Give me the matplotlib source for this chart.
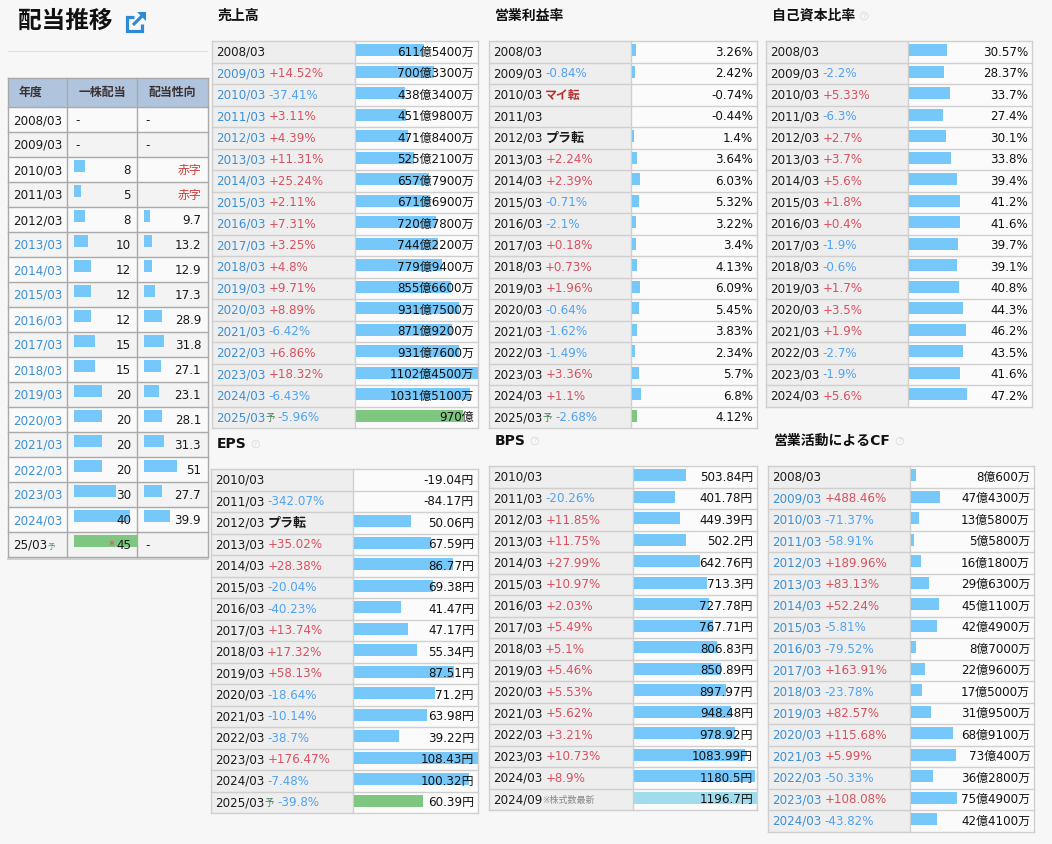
import numpy as np
import matplotlib
matplotlib.use("Agg")
import matplotlib.pyplot as plt
from matplotlib.patches import Rectangle, Polygon

plt.rcParams['font.family'] = ['DejaVu Sans', 'Noto Sans CJK JP']

W, H = 1052, 844
BG = '#f7f7f7'
BAR = '#76c8fb'
BAR_FC = '#7fc781'
BAR_NEW = '#a0dcec'
LINK = '#3b8fd5'
UP = '#d9505e'
DOWN = '#4ea2f2'
FS = 8.6

# ---- 配当推移 ----
div_years = ["2008/03", "2009/03", "2010/03", "2011/03", "2012/03", "2013/03", "2014/03",
             "2015/03", "2016/03", "2017/03", "2018/03", "2019/03", "2020/03", "2021/03",
             "2022/03", "2023/03", "2024/03", "25/03"]
div_amount = [None, None, 8, 5, 8, 10, 12, 12, 12, 15, 15, 20, 20, 20, 20, 30, 40, 45]
div_payout = [None, None, "赤字", "赤字", 9.7, 13.2, 12.9, 17.3, 28.9, 31.8, 27.1, 23.1,
              28.1, 31.3, 51, 27.7, 39.9, None]

# ---- 売上高 (億円) ----
sales_years = [f"{y}/03" for y in range(2008, 2026)]
sales_chg = ["", "+14.52%", "-37.41%", "+3.11%", "+4.39%", "+11.31%", "+25.24%", "+2.11%",
             "+7.31%", "+3.25%", "+4.8%", "+9.71%", "+8.89%", "-6.42%", "+6.86%", "+18.32%",
             "-6.43%", "-5.96%"]
sales_val = [611.54, 700.33, 438.34, 451.98, 471.84, 525.21, 657.79, 671.69, 720.78, 744.22,
             779.94, 855.66, 931.75, 871.92, 931.76, 1102.45, 1031.51, 970.0]

# ---- 営業利益率 (%) ----
margin_years = [f"{y}/03" for y in range(2008, 2026)]
margin_chg = ["", "-0.84%", "マイ転", "", "プラ転", "+2.24%", "+2.39%", "-0.71%", "-2.1%",
              "+0.18%", "+0.73%", "+1.96%", "-0.64%", "-1.62%", "-1.49%", "+3.36%", "+1.1%",
              "-2.68%"]
margin_val = [3.26, 2.42, -0.74, -0.44, 1.4, 3.64, 6.03, 5.32, 3.22, 3.4, 4.13, 6.09, 5.45,
              3.83, 2.34, 5.7, 6.8, 4.12]

# ---- 自己資本比率 (%) ----
equity_years = [f"{y}/03" for y in range(2008, 2025)]
equity_chg = ["", "-2.2%", "+5.33%", "-6.3%", "+2.7%", "+3.7%", "+5.6%", "+1.8%", "+0.4%",
              "-1.9%", "-0.6%", "+1.7%", "+3.5%", "+1.9%", "-2.7%", "-1.9%", "+5.6%"]
equity_val = [30.57, 28.37, 33.7, 27.4, 30.1, 33.8, 39.4, 41.2, 41.6, 39.7, 39.1, 40.8, 44.3,
              46.2, 43.5, 41.6, 47.2]

# ---- EPS (円) ----
eps_years = [f"{y}/03" for y in range(2010, 2026)]
eps_chg = ["", "-342.07%", "プラ転", "+35.02%", "+28.38%", "-20.04%", "-40.23%", "+13.74%",
           "+17.32%", "+58.13%", "-18.64%", "-10.14%", "-38.7%", "+176.47%", "-7.48%", "-39.8%"]
eps_val = [-19.04, -84.17, 50.06, 67.59, 86.77, 69.38, 41.47, 47.17, 55.34, 87.51, 71.2,
           63.98, 39.22, 108.43, 100.32, 60.39]

# ---- BPS (円) ----
bps_years = [f"{y}/03" for y in range(2010, 2025)] + ["2024/09"]
bps_chg = ["", "-20.26%", "+11.85%", "+11.75%", "+27.99%", "+10.97%", "+2.03%", "+5.49%",
           "+5.1%", "+5.46%", "+5.53%", "+5.62%", "+3.21%", "+10.73%", "+8.9%", ""]
bps_val = [503.84, 401.78, 449.39, 502.2, 642.76, 713.3, 727.78, 767.71, 806.83, 850.89,
           897.97, 948.48, 978.92, 1083.99, 1180.5, 1196.7]

# ---- 営業活動によるCF (億円) ----
cf_years = [f"{y}/03" for y in range(2008, 2025)]
cf_chg = ["", "+488.46%", "-71.37%", "-58.91%", "+189.96%", "+83.13%", "+52.24%", "-5.81%",
          "-79.52%", "+163.91%", "-23.78%", "+82.57%", "+115.68%", "+5.99%", "-50.33%",
          "+108.08%", "-43.82%"]
cf_val = [8.06, 47.43, 13.58, 5.58, 16.18, 29.63, 45.11, 42.49, 8.70, 22.96, 17.50, 31.95,
          68.91, 73.04, 36.28, 75.49, 42.41]


def oku(v):
    man = int(round(v * 10000))
    o, rest = divmod(man, 10000)
    return f"{o}億{rest}万" if rest else f"{o}億"


def pct(v):
    return f"{v:g}%"


def yen(v):
    return f"{v:g}円"


fig = plt.figure(figsize=(W / 100, H / 100), dpi=100, facecolor=BG)


def pixel_axes(z):
    a = fig.add_axes([0, 0, 1, 1])
    a.set_xlim(0, W)
    a.set_ylim(H, 0)
    a.axis('off')
    a.set_zorder(z)
    return a


# base: cell backgrounds and grid, fg: all texts on top of the bars
base = pixel_axes(0)
fg = pixel_axes(3)


def chain(x, y, parts):
    # first piece is placed, the others follow the previous text's right edge
    txt, kw, _ = parts[0]
    prev = fg.text(x, y, txt, ha='left', va='baseline', **kw)
    for txt, kw, gap in parts[1:]:
        prev = fg.annotate(txt, xy=(1, y), xycoords=(prev, 'data'), xytext=(gap, 0),
                           textcoords='offset pixels', ha='left', va='baseline', **kw)
    return prev


def help_icon(t, y):
    fg.annotate('?', xy=(1, y), xycoords=(t, 'data'), xytext=(9, 0),
                textcoords='offset pixels', ha='center', va='center', fontsize=4.5,
                color='#d6d6d6',
                bbox=dict(boxstyle='circle,pad=0.2', fc='none', ec='#e0e0e0', lw=0.7))


def bar_axes(x0, y0, w, h, n, vmax):
    bx = fig.add_axes([x0 / W, 1 - (y0 + h) / H, w / W, h / H])
    bx.set_xlim(0, vmax)
    bx.set_ylim(n, 0)
    bx.axis('off')
    bx.set_zorder(1)
    return bx


def panel(title, x0, y0, lw, vw, years, chg, vals, fmt, vmax, link=False, last=None,
          helpq=False):
    n = len(years)
    rh = 21.5
    ty = y0 - 25
    t = fg.text(x0 + 6, ty, title, fontsize=10, fontweight='bold', va='center',
                color='#111111')
    if helpq:
        help_icon(t, ty)
    for i in range(n):
        top = y0 + i * rh
        base.add_patch(Rectangle((x0, top), lw, rh, fc='#eeeeee', ec='none'))
        base.add_patch(Rectangle((x0 + lw, top), vw, rh, fc='#fbfbfb', ec='none'))
    for i in range(n + 1):
        base.plot([x0, x0 + lw + vw], [y0 + i * rh] * 2, color='#cfcfcf', lw=1.0)
    for xx in (x0, x0 + lw, x0 + lw + vw):
        base.plot([xx, xx], [y0, y0 + n * rh], color='#cfcfcf', lw=1.0)

    for i in range(n):
        top = y0 + i * rh
        col = LINK if (link and i > 0) else '#1a1a1a'
        parts = [(years[i], dict(color=col, fontsize=FS), 0)]
        if i == n - 1 and last == 'fc':
            parts.append(('予', dict(color='#3f7f52', fontsize=6.8), 0))
        if i == n - 1 and last == 'new':
            parts.append(('※株式数最新', dict(color='#8a8a8a', fontsize=6.5), 0))
        c = chg[i]
        if c == 'マイ転':
            parts.append((c, dict(color='#b3302f', fontweight='bold', fontsize=FS), 3))
        elif c == 'プラ転':
            parts.append((c, dict(color='#1a1a1a', fontweight='bold', fontsize=FS + 0.8), 3))
        elif c:
            parts.append((c, dict(color=UP if c.startswith('+') else DOWN, fontsize=FS), 3))
        chain(x0 + 4, top + rh / 2 + 4, parts)

    bx = bar_axes(x0 + lw + 1, y0, vw - 1, n * rh, n, vmax)
    colors = [BAR] * n
    if last == 'fc':
        colors[-1] = BAR_FC
    if last == 'new':
        colors[-1] = BAR_NEW
    bx.barh(np.arange(n) + 0.14, np.clip(vals, 0, None), height=0.56, align='edge',
            color=colors)
    for i, v in enumerate(vals):
        bx.annotate(fmt(v), xy=(1, i + 0.5 + 4 / rh), xycoords=('axes fraction', 'data'),
                    xytext=(-4, 0), textcoords='offset pixels', ha='right', va='baseline',
                    fontsize=FS, color='#111111')


# ---- 配当推移 header / icon ----
fg.text(18, 21, '配当推移', fontsize=17, fontweight='bold', va='center', color='#111111')
ic = '#2d8ad6'
fg.plot([134, 127, 127, 142, 142], [17, 17, 31, 31, 24], color=ic, lw=2.3,
        solid_joinstyle='miter', solid_capstyle='butt')
fg.plot([133, 143], [25, 15], color=ic, lw=2.3, solid_capstyle='butt')
fg.add_patch(Polygon([(137, 12), (146, 12), (146, 21)], closed=True, fc=ic, ec='none'))
base.plot([8, 207], [51, 51], color='#e3e3e3', lw=1.0)

# ---- 配当 table ----
dx = [8, 67, 137, 208]
hy0, hy1 = 78, 107
drh = 25
nd = len(div_years)
base.add_patch(Rectangle((dx[0], hy0), dx[3] - dx[0], hy1 - hy0, fc='#b0c4de', ec='none'))
for i in range(nd):
    top = hy1 + i * drh
    base.add_patch(Rectangle((dx[0], top), dx[3] - dx[0], drh,
                             fc='#fafafa' if i % 2 == 0 else '#f3f3f3', ec='none'))
yb = hy1 + nd * drh
for i in range(nd + 1):
    base.plot([dx[0], dx[3]], [hy1 + i * drh] * 2, color='#a9a9a9', lw=1.0)
base.plot([dx[0], dx[3]], [hy0, hy0], color='#a9a9a9', lw=1.0)
base.plot([dx[0], dx[3]], [yb + 1.5, yb + 1.5], color='#c9c9c9', lw=1.2)
for xx in dx:
    base.plot([xx, xx], [hy0, yb], color='#a9a9a9', lw=1.0)

hkw = dict(fontsize=8.6, fontweight='bold', color='#3a3030', va='center')
fg.text(19, (hy0 + hy1) / 2, '年度', ha='left', **hkw)
fg.text((dx[1] + dx[2]) / 2, (hy0 + hy1) / 2, '一株配当', ha='center', **hkw)
fg.text((dx[2] + dx[3]) / 2, (hy0 + hy1) / 2, '配当性向', ha='center', **hkw)

for i in range(nd):
    top = hy1 + i * drh
    yl = top + drh / 2 + 4.5
    col = LINK if 5 <= i <= 16 else '#1a1a1a'
    parts = [(div_years[i], dict(color=col, fontsize=FS), 0)]
    if i == nd - 1:
        parts.append(('予', dict(color='#5a9a70', fontsize=5.5), 0))
    chain(13, yl, parts)

    a = div_amount[i]
    if a is None:
        fg.text(dx[1] + 8, yl, '-', ha='left', va='baseline', fontsize=FS, color='#1a1a1a')
    else:
        t = fg.text(dx[2] - 6, yl, f"{a}", ha='right', va='baseline', fontsize=FS,
                    color='#1a1a1a')
        if i == nd - 1:
            fg.annotate('*', xy=(0, yl), xycoords=(t, 'data'), xytext=(-1, 0),
                        textcoords='offset pixels', ha='right', va='baseline',
                        fontsize=FS, color='#d9505e')
    p = div_payout[i]
    if p is None:
        fg.text(dx[2] + 8, yl, '-', ha='left', va='baseline', fontsize=FS, color='#1a1a1a')
    elif isinstance(p, str):
        fg.text(dx[3] - 7, yl, p, ha='right', va='baseline', fontsize=FS, color='#cc3a3a')
    else:
        fg.text(dx[3] - 7, yl, f"{p:g}", ha='right', va='baseline', fontsize=FS,
                color='#1a1a1a')

amt = np.array([np.nan if a is None else a for a in div_amount], dtype=float)
pay = np.array([p if isinstance(p, (int, float)) else np.nan for p in div_payout],
               dtype=float)
ax_amt = bar_axes(dx[1] + 7, hy1, dx[2] - dx[1] - 7, nd * drh, nd, 45)
acol = [BAR] * nd
acol[-1] = BAR_FC
ax_amt.barh(np.arange(nd) + 0.12, np.nan_to_num(amt), height=0.48, align='edge', color=acol)
ax_pay = bar_axes(dx[2] + 7, hy1, dx[3] - dx[2] - 7, nd * drh, nd, 100)
ax_pay.barh(np.arange(nd) + 0.12, np.nan_to_num(pay), height=0.48, align='edge', color=BAR)

# ---- panels ----
panel('売上高', 212, 41, 143, 123, sales_years, sales_chg, sales_val, oku, max(sales_val),
      link=True, last='fc')
panel('営業利益率', 489, 41, 142, 126, margin_years, margin_chg, margin_val, pct, 100,
      last='fc')
panel('自己資本比率', 766, 41, 142, 124, equity_years, equity_chg, equity_val, pct, 100,
      helpq=True)
panel('EPS', 211, 469, 142, 125, eps_years, eps_chg, eps_val, yen, max(eps_val),
      last='fc', helpq=True)
panel('BPS', 489, 466, 144, 124, bps_years, bps_chg, bps_val, yen, max(bps_val),
      last='new', helpq=True)
panel('営業活動によるCF', 768, 466, 142, 124, cf_years, cf_chg, cf_val, oku, 200,
      link=True, helpq=True)

fig.savefig('out.png', dpi=100, facecolor=BG)
